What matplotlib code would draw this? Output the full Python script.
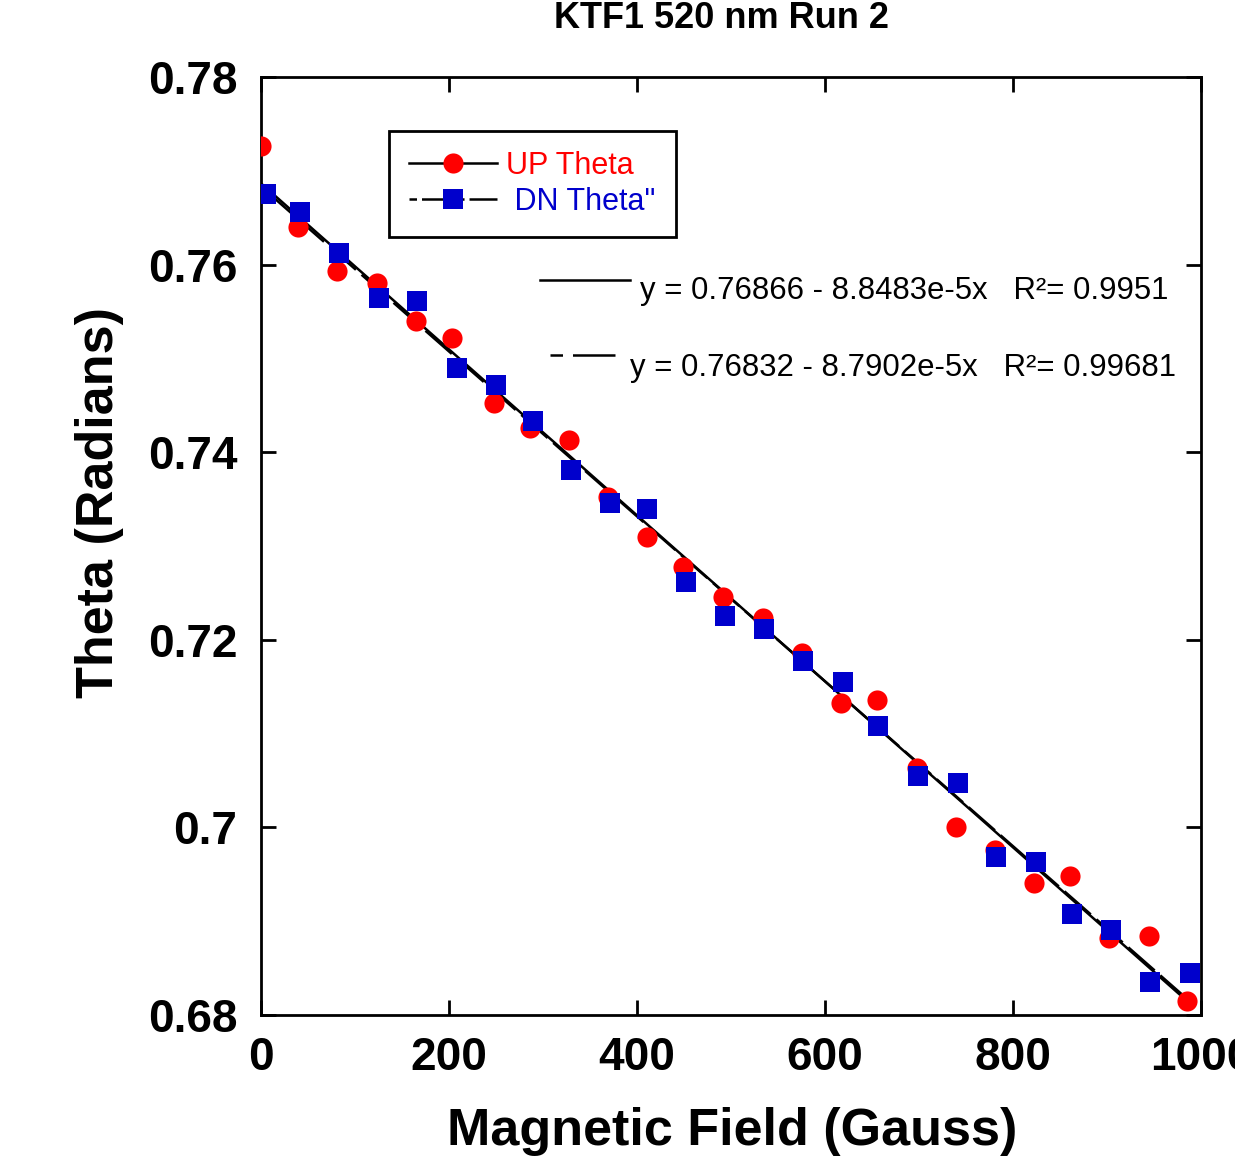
import numpy as np
import matplotlib
matplotlib.use("Agg")
import matplotlib.pyplot as plt
from matplotlib.lines import Line2D

plt.rcParams['font.family'] = ['Liberation Sans', 'DejaVu Sans']

# UP Theta (red circles)
field_up = [0, 39, 81, 123, 165, 203, 248, 286, 328, 369, 411, 449, 491, 534, 575, 617, 655, 698, 739, 781, 822, 861, 902, 945, 985]
theta_up = [0.7726, 0.7640, 0.7593, 0.7580, 0.7540, 0.7522, 0.7452, 0.7426, 0.7413, 0.7352,
            0.7310, 0.7278, 0.7246, 0.7223, 0.7186, 0.7133, 0.7136, 0.7063, 0.7000, 0.6976,
            0.6941, 0.6948, 0.6882, 0.6884, 0.6815]

# DN Theta" (blue squares)
field_dn = [5, 41, 83, 125, 166, 209, 250, 289, 330, 371, 411, 452, 494, 535, 577, 619, 656, 699, 741, 782, 824, 863, 904, 946, 988]
theta_dn = [0.7675, 0.7656, 0.7612, 0.7564, 0.7561, 0.7490, 0.7472, 0.7433, 0.7381, 0.7346,
            0.7339, 0.7262, 0.7225, 0.7212, 0.7177, 0.7155, 0.7108, 0.7055, 0.7047, 0.6968,
            0.6963, 0.6908, 0.6891, 0.6835, 0.6845]

# linear fits shown on the chart
fit_up = (0.76866, -8.8483e-5, 0.9951)
fit_dn = (0.76832, -8.7902e-5, 0.99681)

xticks = [0, 200, 400, 600, 800, 1000]
yticks = [0.68, 0.70, 0.72, 0.74, 0.76, 0.78]
ytick_labels = ["0.68", "0.7", "0.72", "0.74", "0.76", "0.78"]

RED = '#FF0000'
BLUE = '#0000CC'

fig = plt.figure(figsize=(12.35, 11.56), dpi=100)
ax = fig.add_axes([261 / 1235, 1 - 1015 / 1156, 940 / 1235, 938 / 1156])

# fit lines
xs = np.array([min(field_up), max(field_up)])
ax.plot(xs, fit_up[0] + fit_up[1] * xs, color='black', lw=1.8, zorder=2)
xs2 = np.array([min(field_dn), max(field_dn)])
ax.plot(xs2, fit_dn[0] + fit_dn[1] * xs2, color='black', lw=1.8,
        dashes=(14, 3), zorder=2)

# data
ax.plot(field_up, theta_up, 'o', color=RED, ms=14.5, mew=0, zorder=3)
ax.plot(field_dn, theta_dn, 's', color=BLUE, ms=15, mew=0, zorder=4)

ax.set_xlim(0, 1000)
ax.set_ylim(0.68, 0.78)
ax.set_xticks(xticks)
ax.set_xticklabels([str(t) for t in xticks])
ax.set_yticks(yticks)
ax.set_yticklabels(ytick_labels)

for s in ax.spines.values():
    s.set_linewidth(2)
ax.tick_params(direction='in', length=11, width=2, top=True, right=True,
               labelsize=33)
ax.tick_params(axis='x', pad=15)
ax.tick_params(axis='y', pad=17)
for lab in ax.get_xticklabels() + ax.get_yticklabels():
    lab.set_fontweight('bold')

ax.set_xlabel("Magnetic Field (Gauss)", fontsize=37.5, fontweight='bold')
ax.xaxis.set_label_coords((732 - 261) / 940, (1015 - 1131) / 938)
ax.xaxis.label.set_va('center')
ax.set_ylabel("Theta (Radians)", fontsize=37.5, fontweight='bold')
ax.yaxis.set_label_coords((100 - 261) / 940, (1015 - 502) / 938)
ax.yaxis.label.set_va('center')

fig.text(722 / 1235, 1 - 19 / 1156, "KTF1 520 nm Run 2", fontsize=26,
         fontweight='bold', ha='center', va='center')

# legend
handles = [
    Line2D([], [], color='black', lw=1.8, marker='o', markerfacecolor=RED,
           markeredgewidth=0, ms=14.5),
    Line2D([], [], color='black', lw=1.8, dashes=(3, 2, 14, 0.01), marker='s',
           markerfacecolor=BLUE, markeredgewidth=0, ms=15),
]
leg = ax.legend(handles, ["UP Theta", " DN Theta\""], loc='upper left',
                bbox_to_anchor=(0.136, 0.9424), borderaxespad=0, fontsize=22,
                frameon=True, fancybox=False, framealpha=1, edgecolor='black',
                handlelength=2.9, handletextpad=0.3, labelspacing=0.2,
                borderpad=0.65, labelcolor=[RED, BLUE])
leg.get_frame().set_linewidth(2)

# fit equations
ax.add_line(Line2D([(540 - 261) / 940, (630 - 261) / 940],
                   [(1015 - 280) / 938] * 2, transform=ax.transAxes,
                   color='black', lw=1.8))
ax.text((640 - 261) / 940, (1015 - 291) / 938,
        "y = %.5f - %.4fe-5x   R\u00b2= %.4f" % (fit_up[0], -fit_up[1] * 1e5, fit_up[2]),
        transform=ax.transAxes, fontsize=22.4, va='center', ha='left')
ax.add_line(Line2D([(550 - 261) / 940, (615 - 261) / 940],
                   [(1015 - 355) / 938] * 2, transform=ax.transAxes,
                   color='black', lw=1.8, dashes=(5, 4, 30, 0.01)))
ax.text((630 - 261) / 940, (1015 - 368) / 938,
        "y = %.5f - %.4fe-5x   R\u00b2= %.5f" % (fit_dn[0], -fit_dn[1] * 1e5, fit_dn[2]),
        transform=ax.transAxes, fontsize=22.4, va='center', ha='left')

fig.savefig("out.png", dpi=100)
